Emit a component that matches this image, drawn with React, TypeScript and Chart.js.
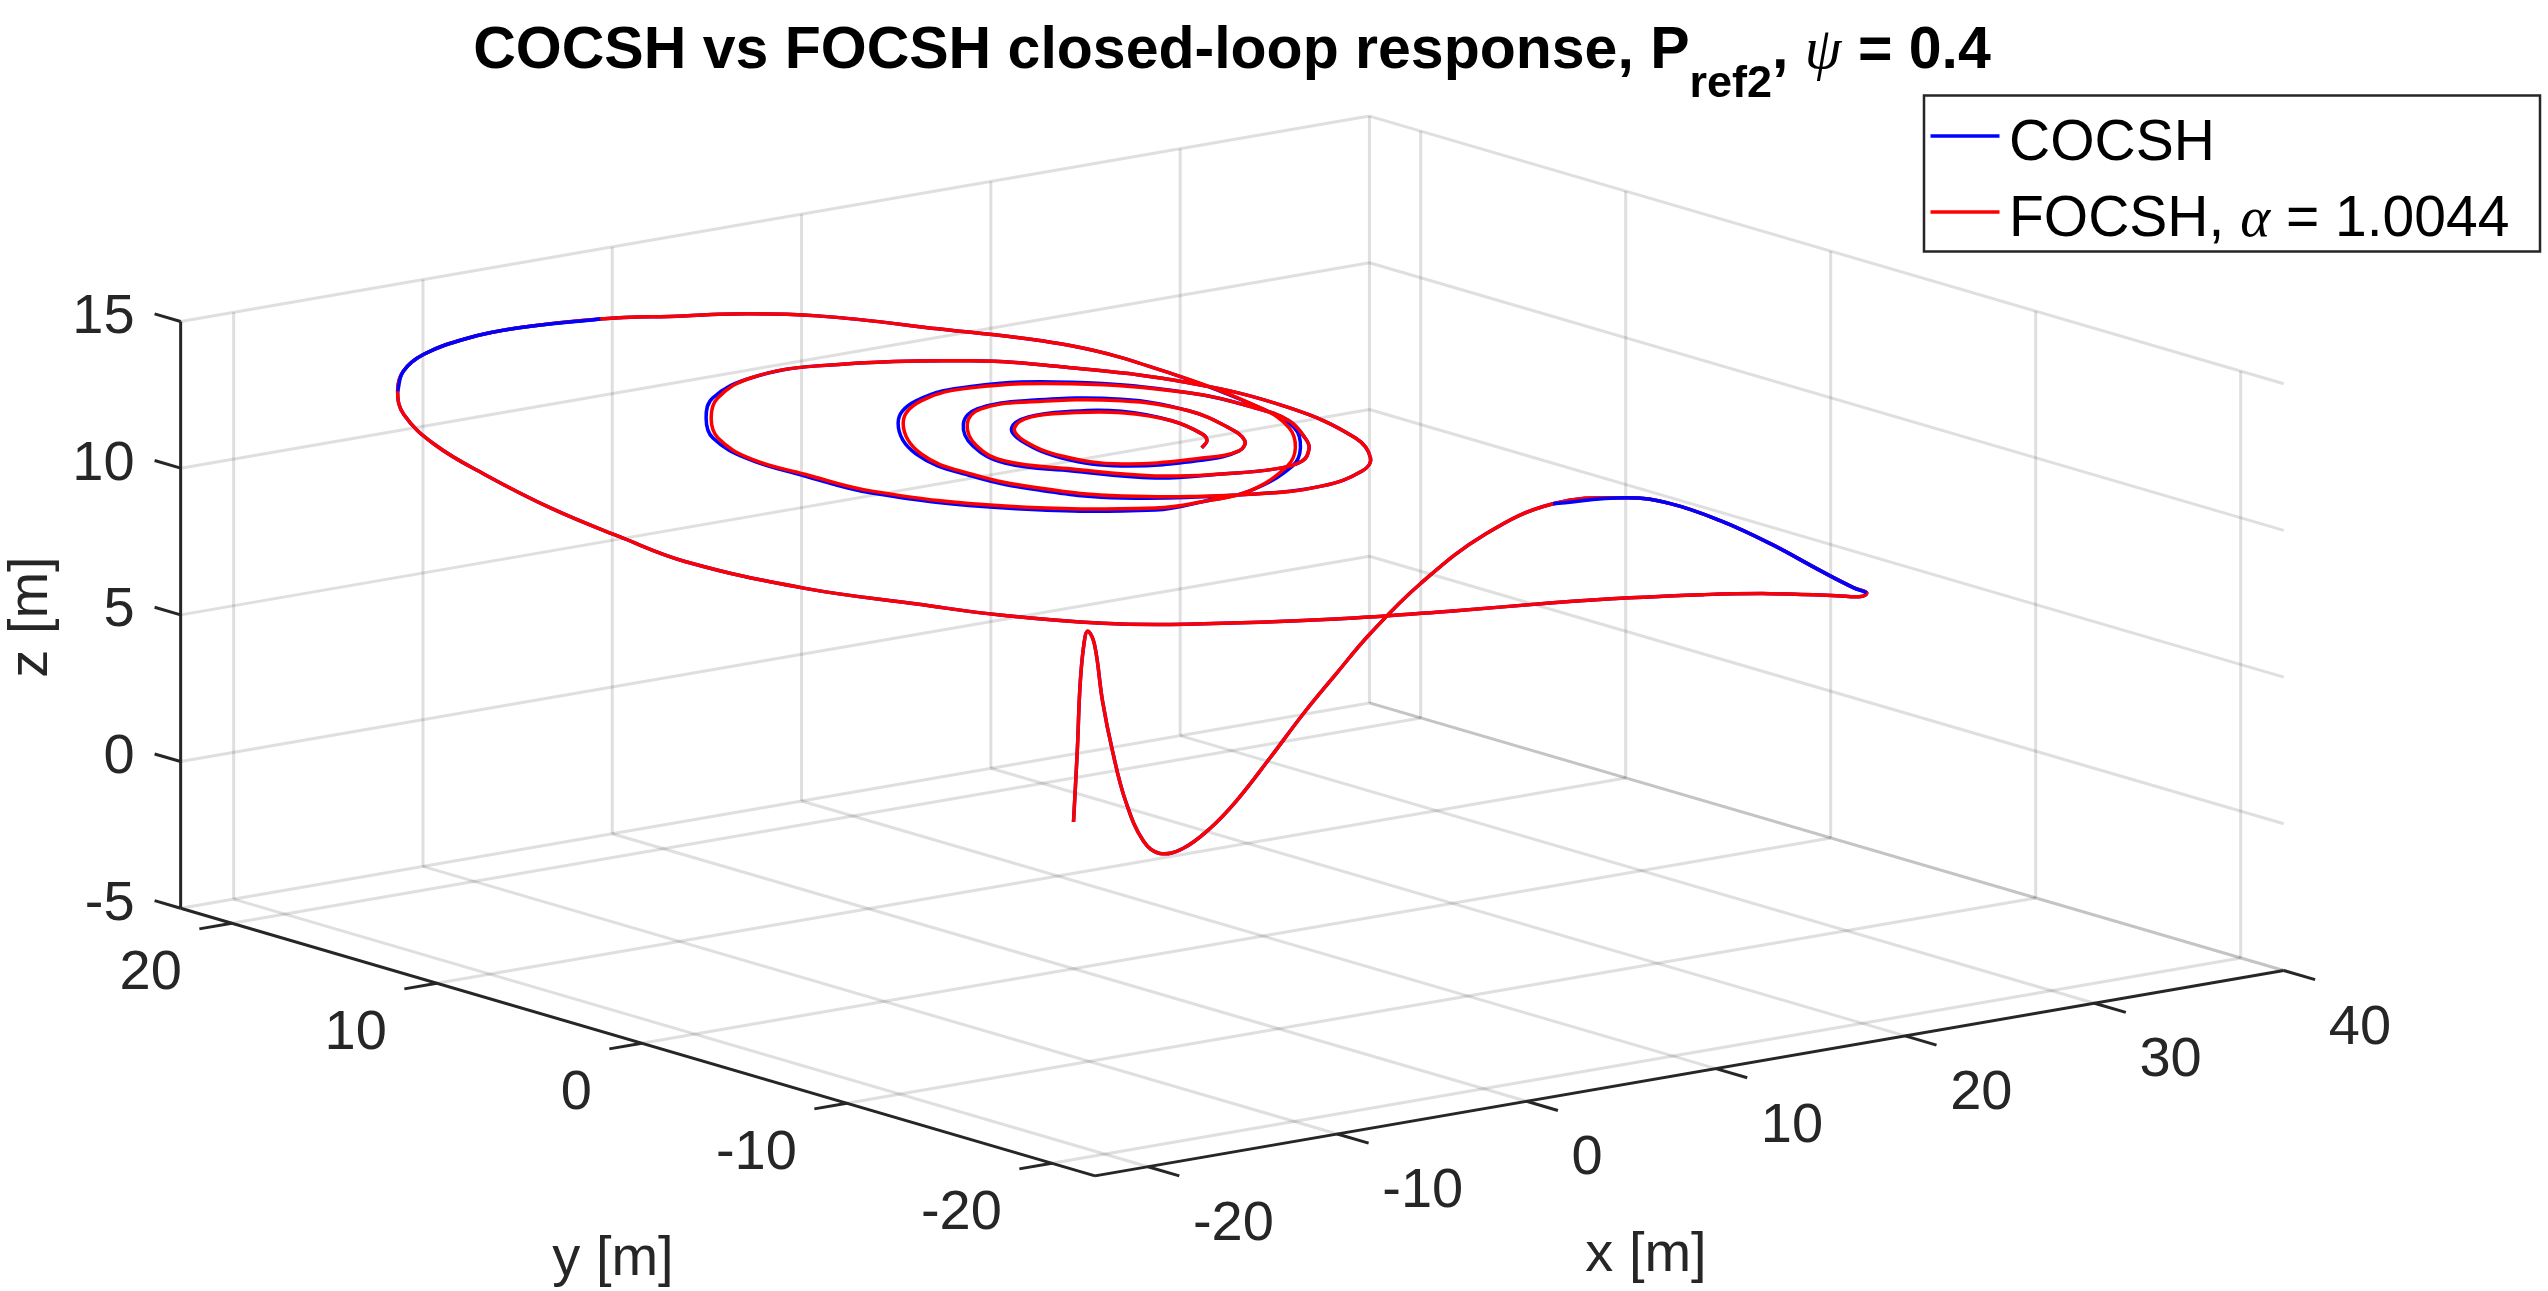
import React, { useEffect, useRef } from "react";
import { Chart, registerables } from "chart.js";

Chart.register(...registerables);

// axis box (metres) and ticks
const X_LIM = [-22.8, 40];
const Y_LIM = [-22.1, 22.5];
const Z_LIM = [-5, 15];
const X_TICKS = [-20, -10, 0, 10, 20, 30, 40];
const Y_TICKS = [-20, -10, 0, 10, 20];
const Z_TICKS = [-5, 0, 5, 10, 15];

// FOCSH trajectory, alpha = 1.0044
const FOCSH_X = [
  0, 0.2, 0.35, 0.55, 0.75, 0.89, 0.95, 0.95, 0.8, 0.8, 0.9, 1.63, 2.8, 4.08, 6.09, 8.2, 10.18, 12.2, 14.55, 17.77,
  20.42, 21.87, 23.33, 25.05, 27.1, 29.36, 31.2, 32.4, 32.1, 31.38, 29.08, 26.4, 23.29, 19.82, 15.25, 10.1, 3.87, 0.55, -2.88, -5.73,
  -10.04, -14.97, -16.66, -18.38, -19.41, -19.67, -18.6, -16.86, -14.72, -12.12, -8.51, -5.38, -1.25, 2.19, 4.41, 7.32, 10.51, 14.02, 15.18, 15.21,
  14.61, 12.88, 11.07, 7.47, 5.2, 3.07, -1.38, -4.11, -4.75, -4.98, -3.87, -2.16, 0.34, 3.71, 7.3, 12.97, 15.51, 17.72, 18.55, 17.67,
  16.24, 14.5, 11.8, 8.66, 4.32, 2.46, 1.81, 2.41, 5.33, 8.43, 11.57, 15.36, 18.24, 18.74, 18.4, 17.0, 16.0, 14.3, 12.49, 10.15,
  7.69, 5.72, 4.39, 5.16, 7.35, 9.52, 11.98, 15.1, 16.2, 15.6, 14.66, 13.33, 11.4, 7.95, 6.86, 7.32, 8.47, 10.28, 12.07, 13.74,
  14.5, 14.02, 13.4, 12.43,
];
const FOCSH_Y = [
  0, 0, 0, 0, 0, -0.2, -0.54, -1.03, -1.81, -2.68, -3.38, -3.83, -4.07, -4.16, -3.95, -3.62, -3.4, -3.19, -3.47, -3.71,
  -4.54, -6.77, -7.57, -8.42, -8.97, -9.32, -9.23, -8.77, -8.78, -8.23, -7.13, -6.33, -5.65, -5.08, -4.43, -3.46, -1.9, -0.92, 0.81, 2.24,
  3.82, 5.13, 6.79, 8.49, 10.8, 13.0, 15.5, 17.4, 19.1, 20.5, 21.7, 22.17, 21.93, 21.05, 20.67, 19.24, 16.32, 13.05, 9.23, 4.85,
  2.97, 1.07, -0.22, -1.7, -1.65, -1.18, 2.06, 6.04, 8.72, 11.1, 13.77, 15.68, 17.67, 19.17, 19.23, 16.98, 14.45, 10.75, 6.62, 2.58,
  0.51, -0.71, -1.26, -0.89, 1.61, 3.95, 6.63, 9.65, 13.23, 15.22, 15.68, 14.3, 11.23, 8.47, 6.48, 4.41, 3.28, 2.03, 1.68, 2.12,
  3.12, 5.35, 7.4, 9.48, 11.97, 13.3, 13.13, 11.6, 9.34, 6.83, 5.18, 4.23, 4.11, 4.98, 6.9, 9.15, 10.7, 11.55, 11.25, 10.34,
  8.6, 6.68, 5.86, 5.22,
];
const FOCSH_Z = [
  0, 2.4, 4.65, 6.0, 6.42, 6.0, 4.12, 2.51, 0.98, -0.2, -0.48, -0.3, 0.3, 1.1, 2.3, 3.5, 4.6, 5.7, 7.2, 8.6,
  9.5, 10.0, 9.8, 9.2, 8.3, 7.2, 6.4, 6.0, 5.9, 5.9, 6.0, 6.1, 6.2, 6.3, 6.4, 6.5, 6.7, 6.9, 7.2, 7.6,
  8.3, 9.5, 10.2, 11.0, 11.8, 12.4, 12.8, 13.0, 13.1, 13.1, 13.0, 12.9, 12.8, 12.7, 12.6, 12.5, 12.3, 12.0, 11.7, 11.4,
  11.2, 11.1, 10.95, 10.8, 10.7, 10.6, 10.5, 10.5, 10.6, 10.65, 10.7, 10.8, 10.8, 10.8, 10.8, 10.8, 10.8, 10.8, 10.7, 10.6,
  10.5, 10.5, 10.4, 10.4, 10.3, 10.3, 10.3, 10.3, 10.3, 10.3, 10.3, 10.3, 10.3, 10.3, 10.3, 10.3, 10.3, 10.3, 10.3, 10.3,
  10.3, 10.3, 10.3, 10.3, 10.3, 10.3, 10.3, 10.3, 10.3, 10.3, 10.3, 10.3, 10.3, 10.3, 10.3, 10.3, 10.3, 10.3, 10.3, 10.3,
  10.3, 10.3, 10.3, 10.3,
];

// COCSH trajectory
const COCSH_X = [
  0, 0.2, 0.35, 0.55, 0.75, 0.89, 0.95, 0.95, 0.8, 0.8, 0.9, 1.63, 2.8, 4.08, 6.09, 8.2, 10.18, 12.2, 14.55, 17.77,
  20.42, 21.87, 23.33, 25.05, 27.1, 29.36, 31.2, 32.4, 32.1, 31.38, 29.08, 26.4, 23.29, 19.82, 15.25, 10.1, 3.87, 0.55, -2.88, -5.73,
  -10.04, -14.97, -16.66, -18.38, -19.41, -19.67, -18.6, -16.86, -14.72, -12.12, -8.51, -5.38, -1.25, 2.19, 4.41, 7.32, 10.51, 14.02, 15.18, 15.21,
  14.78, 13.05, 11.24, 7.47, 5.2, 2.84, -1.61, -4.34, -4.95, -5.08, -4.04, -2.33, 0.17, 3.71, 7.3, 12.97, 15.51, 17.72, 18.55, 17.67,
  16.24, 14.5, 11.8, 8.66, 4.09, 2.23, 1.58, 2.24, 5.16, 8.26, 11.74, 15.53, 18.24, 18.74, 18.4, 17.0, 16.0, 14.3, 12.49, 10.15,
  7.46, 5.49, 4.16, 5.03, 7.22, 9.39, 12.15, 15.27, 16.2, 15.6, 14.66, 13.33, 11.17, 7.72, 6.63, 7.22, 8.37, 10.18, 12.24, 13.91,
  14.5, 14.02, 13.4, 12.43,
];
const COCSH_Y = [
  0, 0, 0, 0, 0, -0.2, -0.54, -1.03, -1.81, -2.68, -3.38, -3.83, -4.07, -4.16, -3.95, -3.62, -3.4, -3.19, -3.47, -3.71,
  -4.54, -6.77, -7.57, -8.42, -8.97, -9.32, -9.23, -8.77, -8.78, -8.23, -7.13, -6.33, -5.65, -5.08, -4.43, -3.46, -1.9, -0.92, 0.81, 2.24,
  3.82, 5.13, 6.79, 8.49, 10.8, 13.0, 15.5, 17.4, 19.1, 20.5, 21.7, 22.17, 21.93, 21.05, 20.67, 19.24, 16.32, 13.05, 9.23, 4.85,
  2.88, 0.98, -0.31, -1.7, -1.65, -1.39, 1.85, 5.83, 8.62, 11.15, 13.86, 15.77, 17.76, 19.17, 19.23, 16.98, 14.45, 10.75, 6.62, 2.58,
  0.51, -0.71, -1.26, -0.89, 1.4, 3.74, 6.42, 9.74, 13.32, 15.31, 15.84, 14.46, 11.23, 8.47, 6.48, 4.41, 3.28, 2.03, 1.68, 2.12,
  2.91, 5.14, 7.19, 9.55, 12.04, 13.37, 13.29, 11.76, 9.34, 6.83, 5.18, 4.23, 3.9, 4.77, 6.69, 9.2, 10.75, 11.6, 11.41, 10.5,
  8.6, 6.68, 5.86, 5.22,
];
const COCSH_Z = FOCSH_Z.slice();

// stretches of the COCSH line that sit in front of the FOCSH line
const COCSH_FRONT = [
  [20, 27],
  [47, 52],
];

const W = 2548;
const H = 1291;

// view: screen position of (0,0,0) and screen step per metre along x, y, z
const ORIGIN = [1073.5, 822];
const EX = [18.93, -3.27];
const EY = [-20.5, -6.0];
const EZ = [0, -29.34];

const project = (x: number, y: number, z: number) => ({
  x: ORIGIN[0] + x * EX[0] + y * EY[0] + z * EZ[0],
  y: ORIGIN[1] + x * EX[1] + y * EY[1] + z * EZ[1],
});

const SANS = '"Liberation Sans", Arial, Helvetica, sans-serif';
const SERIF = '"Liberation Serif", "DejaVu Serif", serif';
const AXIS_COLOR = "#262626";
const GRID_COLOR = "rgba(38, 38, 38, 0.15)";

const boxPlugin = {
  id: "box3d",
  beforeDatasetsDraw(chart: any) {
    const { ctx, scales } = chart;
    const px = (x: number, y: number, z: number): [number, number] => {
      const p = project(x, y, z);
      return [scales.x.getPixelForValue(p.x), scales.y.getPixelForValue(p.y)];
    };
    const seg = (a: [number, number], b: [number, number], color: string, width: number) => {
      ctx.beginPath();
      ctx.moveTo(a[0], a[1]);
      ctx.lineTo(b[0], b[1]);
      ctx.strokeStyle = color;
      ctx.lineWidth = width;
      ctx.stroke();
    };
    const [x0, x1] = X_LIM;
    const [y0, y1] = Y_LIM;
    const [z0, z1] = Z_LIM;

    ctx.save();
    ctx.lineCap = "butt";

    // back wall y = ymax
    Z_TICKS.forEach((z) => seg(px(x0, y1, z), px(x1, y1, z), GRID_COLOR, 3));
    X_TICKS.forEach((x) => seg(px(x, y1, z0), px(x, y1, z1), GRID_COLOR, 3));
    // back wall x = xmax
    Z_TICKS.forEach((z) => seg(px(x1, y0, z), px(x1, y1, z), GRID_COLOR, 3));
    Y_TICKS.forEach((y) => seg(px(x1, y, z0), px(x1, y, z1), GRID_COLOR, 3));
    // floor
    X_TICKS.forEach((x) => seg(px(x, y0, z0), px(x, y1, z0), GRID_COLOR, 3));
    Y_TICKS.forEach((y) => seg(px(x0, y, z0), px(x1, y, z0), GRID_COLOR, 3));

    // axis lines
    seg(px(x0, y1, z0), px(x0, y1, z1), AXIS_COLOR, 3);
    seg(px(x0, y0, z0), px(x0, y1, z0), AXIS_COLOR, 3);
    seg(px(x0, y0, z0), px(x1, y0, z0), AXIS_COLOR, 3);

    ctx.fillStyle = AXIS_COLOR;
    ctx.font = `56px ${SANS}`;
    ctx.textBaseline = "alphabetic";

    Z_TICKS.forEach((z) => {
      const a = px(x0, y1, z);
      const b = px(x0, y1 + 1.27, z);
      seg(a, b, AXIS_COLOR, 3);
      ctx.textAlign = "right";
      ctx.fillText(String(z), b[0] - 20, b[1] - 1 + 20);
    });
    Y_TICKS.forEach((y) => {
      const a = px(x0, y, z0);
      const b = px(x0 - 1.72, y, z0);
      seg(a, b, AXIS_COLOR, 3);
      ctx.textAlign = "right";
      ctx.fillText(String(y), a[0] - 50, a[1] + 46 + 20);
    });
    X_TICKS.forEach((x) => {
      const a = px(x, y0, z0);
      const b = px(x, y0 - 1.53, z0);
      seg(a, b, AXIS_COLOR, 3);
      ctx.textAlign = "left";
      ctx.fillText(String(x), a[0] + 45, a[1] + 53 + 20);
    });

    // axis labels
    ctx.textAlign = "center";
    ctx.fillText("x [m]", 1646, 1271);
    ctx.fillText("y [m]", 613, 1275);
    ctx.save();
    ctx.translate(47, 617);
    ctx.rotate(-Math.PI / 2);
    ctx.fillText("z [m]", 0, 0);
    ctx.restore();

    ctx.restore();
  },
};

type Run = { text: string; font: string; dy: number };

const drawRuns = (ctx: CanvasRenderingContext2D, runs: Run[], x: number, baseline: number) => {
  let cx = x;
  runs.forEach((r) => {
    ctx.font = r.font;
    ctx.fillText(r.text, cx, baseline + r.dy);
    cx += ctx.measureText(r.text).width;
  });
};

const runsWidth = (ctx: CanvasRenderingContext2D, runs: Run[]) =>
  runs.reduce((w, r) => {
    ctx.font = r.font;
    return w + ctx.measureText(r.text).width;
  }, 0);

const overlayPlugin = {
  id: "overlay",
  afterDraw(chart: any) {
    const { ctx } = chart;
    ctx.save();
    ctx.fillStyle = "#000000";
    ctx.textAlign = "left";
    ctx.textBaseline = "alphabetic";

    // title
    const bold = `bold 59px ${SANS}`;
    const title: Run[] = [
      { text: "COCSH vs FOCSH closed-loop response, P", font: bold, dy: 0 },
      { text: "ref2", font: `bold 45px ${SANS}`, dy: 29 },
      { text: ", ", font: bold, dy: 0 },
      { text: "\u03C8", font: `italic 59px ${SERIF}`, dy: 0 },
      { text: " = 0.4", font: bold, dy: 0 },
    ];
    drawRuns(ctx, title, 1232 - runsWidth(ctx, title) / 2, 68);

    // legend
    const lx = 1924;
    const ly = 95.5;
    const lw = 616;
    const lh = 156;
    ctx.fillStyle = "#ffffff";
    ctx.fillRect(lx, ly, lw, lh);
    ctx.strokeStyle = AXIS_COLOR;
    ctx.lineWidth = 2.5;
    ctx.strokeRect(lx, ly, lw, lh);

    const entries = [
      { color: "#0000ff", y: 136, runs: [{ text: "COCSH", font: `57px ${SANS}`, dy: 0 }] },
      {
        color: "#ff0000",
        y: 212,
        runs: [
          { text: "FOCSH, ", font: `57px ${SANS}`, dy: 0 },
          { text: "\u03B1", font: `italic 57px ${SERIF}`, dy: 0 },
          { text: " = 1.0044", font: `57px ${SANS}`, dy: 0 },
        ],
      },
    ];
    entries.forEach((e) => {
      ctx.beginPath();
      ctx.moveTo(lx + 6.5, e.y);
      ctx.lineTo(lx + 75.5, e.y);
      ctx.strokeStyle = e.color;
      ctx.lineWidth = 3.5;
      ctx.stroke();
      ctx.fillStyle = "#000000";
      drawRuns(ctx, e.runs, lx + 85, e.y + 24);
    });

    ctx.restore();
  },
};

const App: React.FC = () => {
  const canvasRef = useRef<HTMLCanvasElement>(null);

  useEffect(() => {
    const canvas = canvasRef.current;
    if (!canvas) return;

    const toPoints = (xs: number[], ys: number[], zs: number[]) => xs.map((x, i) => project(x, ys[i], zs[i]));
    const red = toPoints(FOCSH_X, FOCSH_Y, FOCSH_Z);
    const blue = toPoints(COCSH_X, COCSH_Y, COCSH_Z);

    const lineStyle = {
      showLine: true,
      pointRadius: 0,
      pointHoverRadius: 0,
      borderWidth: 3.5,
      tension: 0.4,
      fill: false,
    };

    const chart = new Chart(canvas, {
      type: "scatter",
      data: {
        datasets: [
          ...COCSH_FRONT.map(([a, b]) => ({
            label: "COCSH",
            data: blue.slice(a, b + 1),
            borderColor: "#0000ff",
            order: 0,
            ...lineStyle,
          })),
          { label: "FOCSH, \u03B1 = 1.0044", data: red, borderColor: "#ff0000", order: 1, ...lineStyle },
          { label: "COCSH", data: blue, borderColor: "#0000ff", order: 2, ...lineStyle },
        ],
      },
      options: {
        responsive: false,
        animation: false,
        devicePixelRatio: 1,
        layout: { padding: 0 },
        events: [],
        plugins: {
          legend: { display: false },
          title: { display: false },
          tooltip: { enabled: false },
        },
        scales: {
          x: { type: "linear", min: 0, max: W, display: false },
          y: { type: "linear", min: 0, max: H, reverse: true, display: false },
        },
      },
      plugins: [boxPlugin, overlayPlugin],
    });

    return () => {
      chart.destroy();
    };
  }, []);

  return (
    <div style={{ position: "fixed", left: 0, top: 0, width: W, height: H, background: "#ffffff" }}>
      <canvas ref={canvasRef} width={W} height={H} style={{ display: "block", width: W, height: H }} />
    </div>
  );
};

export default App;
